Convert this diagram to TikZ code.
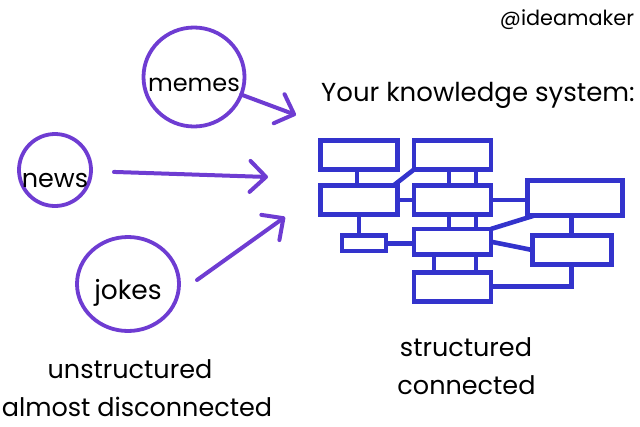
\documentclass[tikz,border=0pt]{standalone}
\usepackage{fontspec}
\setmainfont{Poppins}
\usetikzlibrary{arrows.meta,positioning,calc,shapes.geometric}
\definecolor{kbblue}{RGB}{51,51,204}
\definecolor{kbpurple}{RGB}{110,60,210}
\tikzset{
  kbox/.style={
    draw=kbblue, line width=4.8pt, rectangle, inner sep=0pt, outer sep=0pt,
    minimum width=77pt, minimum height=29pt
  },
  link/.style={draw=kbblue, line width=4.6pt},
  src/.style={draw=kbpurple, line width=3.8pt, ellipse, inner sep=0pt, outer sep=0pt},
  arr/.style={-{Straight Barb[length=16pt,width=31pt,round]}, draw=kbpurple, line width=4pt, line cap=round},
  lbl/.style={font=\fontsize{25.5}{30}\selectfont, inner sep=0pt, anchor=base},
  tag/.style={font=\fontsize{20.8}{25}\selectfont, inner sep=0pt, anchor=base}
}
\begin{document}
\begin{tikzpicture}[x=1pt,y=-1pt]
  \useasboundingbox (0,0) rectangle (640,426);
  % sources
  \node[src, minimum width=101pt, minimum height=99pt,
    label={[lbl,font=\fontsize{24}{28}\selectfont,yshift=-8pt]center:memes}] (memes) at (194,77) {};
  \node[src, minimum width=72pt, minimum height=72pt,
    label={[lbl,yshift=-10pt]center:news}] (news) at (55,170) {};
  \node[src, minimum width=102pt, minimum height=94pt,
    label={[lbl,font=\fontsize{26.5}{30}\selectfont,yshift=-9pt]center:jokes}] (jokes) at (128,284) {};
  \coordinate (mtip) at (296,115);
  \coordinate (ntip) at (268,177);
  \coordinate (jtip) at (285,217);
  \draw[arr] (memes) -- (mtip);
  \draw[arr, shorten <=23pt] (news) -- (ntip);
  \draw[arr] ([shift={(18,-4)}]jokes.east) -- (jtip);
  % knowledge system
  \node[kbox] (b1) at (359,155) {};
  \node[kbox] (b2) at (452.5,155) {};
  \node[kbox] (b3) at (359,200) {};
  \node[kbox] (b4) at (452.5,200) {};
  \node[kbox, minimum width=95pt, minimum height=35pt] (b5) at (575,198.3) {};
  \node[kbox, minimum width=44pt, minimum height=15.5pt] (b6) at (364,243.3) {};
  \node[kbox, minimum height=25.5pt] (b7) at (452.5,241.7) {};
  \node[kbox, minimum width=79pt] (b8) at (571.7,250) {};
  \node[kbox] (b9) at (452.5,286.7) {};
  \draw[link] ([xshift=-2pt]b1.south) -- ([xshift=-2pt]b3.north);
  \draw[link] (b2.south west) -- ([xshift=-4pt]b3.north east);
  \draw[link] ([xshift=-3.5pt]b2.south) -- ([xshift=-3.5pt]b4.north);
  \draw[link] ([xshift=23.5pt]b2.south) -- ([xshift=23.5pt]b4.north);
  \draw[link] (b3.east) -- (b4.west);
  \draw[link] (b4.east) -- (b4.east -| b5.west);
  \draw[link] (b3.south) -- (b3.south |- b6.north);
  \draw[link] ([xshift=-3.5pt]b4.south) -- ([xshift=-3.5pt]b7.north);
  \draw[link] ([xshift=23.5pt]b4.south) -- ([xshift=23.5pt]b7.north);
  \draw[link] (b6.east) -- (b6.east -| b7.west);
  \draw[link] (b7.north east) -- ([xshift=6pt]b5.south west);
  \draw[link] (b7.east) -- (b8.west);
  \draw[link] (b8.north |- b5.south) -- (b8.north);
  \draw[link] ([xshift=-18.5pt]b7.south) -- ([xshift=-18.5pt]b9.north);
  \draw[link] ([xshift=23.5pt]b7.south) -- ([xshift=23.5pt]b9.north);
  \draw[link] (b9.east) -| (b8.south);
  % texts
  \node[tag] (handle) at (567,25) {@ideamaker};
  \node[lbl, font=\fontsize{26}{30}\selectfont] (title) at (478,101.7) {Your knowledge system:};
  \node[lbl] (unst) at (130,378.3) {unstructured};
  \node[lbl] (disc) at (137,416.7) {almost disconnected};
  \node[lbl] (st) at (466,356) {structured};
  \node[lbl] (conn) at (466.5,394) {connected};
\end{tikzpicture}
\end{document}
